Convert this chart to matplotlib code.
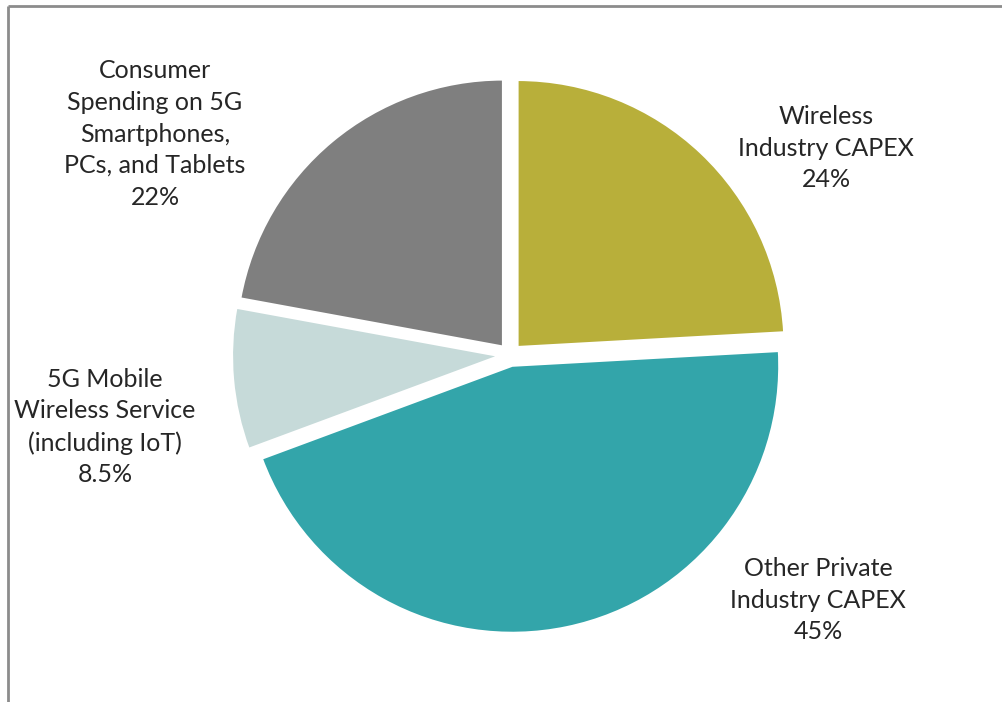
import matplotlib
matplotlib.use('Agg')
import matplotlib.pyplot as plt

# slices, clockwise from 12 o'clock
labels = ['Wireless\nIndustry CAPEX\n24%',
          'Other Private\nIndustry CAPEX\n45%',
          '5G Mobile\nWireless Service\n(including IoT)\n8.5%',
          'Consumer\nSpending on 5G\nSmartphones,\nPCs, and Tablets\n22%']
values = [24, 45, 8.5, 22]
colors = ['#B8AF3A', '#33A5AA', '#C6DAD9', '#7F7F7F']

# label centres in pixel space (x, y from top)
label_pos = [(826, 148), (818, 600), (105, 427), (155, 134)]

W, H = 1003, 702
plt.rcParams['font.family'] = ['Lato', 'DejaVu Sans']

fig = plt.figure(figsize=(W / 100, H / 100), dpi=100)
ax = fig.add_axes([0, 0, 1, 1])

R = 267
# explode is in data units here (pixels)
ax.pie(values, colors=colors, startangle=90, counterclock=False,
       radius=R, center=(510, H - 355), explode=[11] * 4,
       wedgeprops=dict(edgecolor='white', linewidth=1.5), frame=True)

for txt, (x, y) in zip(labels, label_pos):
    ax.text(x, H - y, txt, ha='center', va='center', fontsize=18,
            color='#262626', linespacing=1.45)

# partial frame: top and left only
ax.plot([8, W - 1], [H - 6, H - 6], color='#8C8C8C', lw=2, solid_capstyle='butt')
ax.plot([8, 8], [H - 6, 0], color='#8C8C8C', lw=2, solid_capstyle='butt')

ax.set_xlim(0, W)
ax.set_ylim(0, H)
ax.set_aspect('equal')
ax.axis('off')

plt.savefig('out.png', dpi=100)
